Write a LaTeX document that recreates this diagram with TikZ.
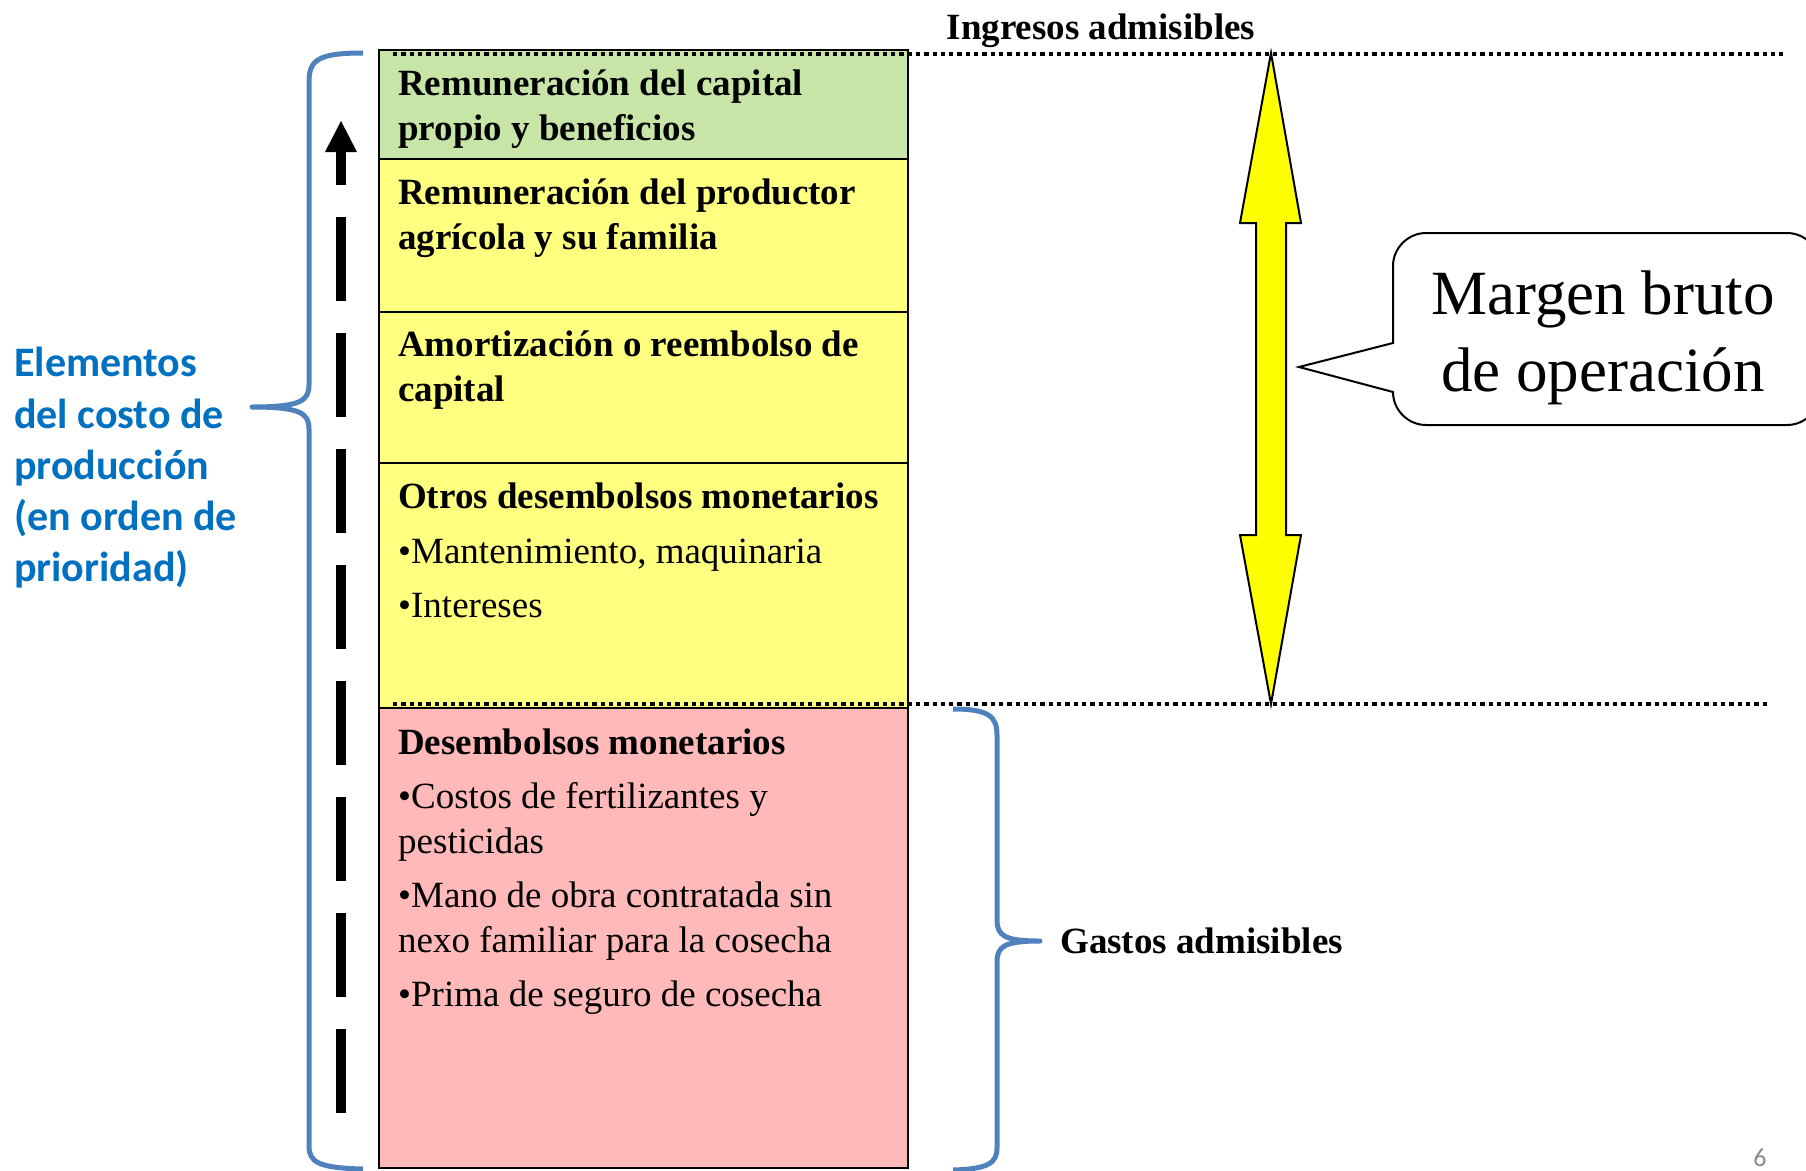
\documentclass[tikz,border=0pt]{standalone}
\usepackage{fontspec}
\setmainfont{Liberation Serif}
\newfontfamily\carlito{Carlito}
\definecolor{bgreen}{RGB}{198,229,167}
\definecolor{byellow}{RGB}{255,255,128}
\definecolor{bpink}{RGB}{255,185,185}
\definecolor{braceblue}{RGB}{79,129,189}
\definecolor{textblue}{RGB}{0,112,192}
\definecolor{pagegrey}{RGB}{137,137,137}
\definecolor{arrowyellow}{RGB}{255,255,0}
\begin{document}
\begin{tikzpicture}[x=1pt,y=-1pt,
  regtext/.style={anchor=base west,inner sep=0pt,font=\fontsize{37}{45}\selectfont},
  boldtext/.style={anchor=base west,inner sep=0pt,font=\fontsize{37}{45}\selectfont\bfseries},
  bluetext/.style={anchor=base west,inner sep=0pt,text=textblue,font=\carlito\fontsize{42}{51}\selectfont\bfseries},
  layer/.style={draw=black,line width=2pt},
  dotline/.style={line width=4pt,dash pattern=on 4.3pt off 4pt},
  bracestyle/.style={draw=braceblue,line width=5pt,line join=round},
  bigarrow/.style={fill=arrowyellow,draw=black,line width=2pt,line join=miter},
  callout/.style={fill=white,draw=black,line width=2pt,line join=miter}]
\useasboundingbox (0,0) rectangle (1806,1170);
\clip (0,0) rectangle (1806,1170);
\fill[white] (0,0) rectangle (1806,1170);

% layers of the column
\draw[layer,fill=bgreen] (379,50) rectangle (908,159);
\draw[layer,fill=byellow] (379,159) rectangle (908,312);
\draw[layer,fill=byellow] (379,312) rectangle (908,463);
\draw[layer,fill=byellow] (379,463) rectangle (908,708);
\draw[layer,fill=bpink] (379,708) rectangle (908,1168);

% texts in the column
\node[boldtext] (t1a) at (398,95) {Remuneración del capital};
\node[boldtext] (t1b) at (398,140) {propio y beneficios};
\node[boldtext] (t2a) at (398,204) {Remuneración del productor};
\node[boldtext] (t2b) at (398,249) {agrícola y su familia};
\node[boldtext] (t3a) at (398,356) {Amortización o reembolso de};
\node[boldtext] (t3b) at (398,401) {capital};
\node[boldtext] (t4a) at (398,508) {Otros desembolsos monetarios};
\node[regtext] (t4b) at (398,563) {•Mantenimiento, maquinaria};
\node[regtext] (t4c) at (398,617) {•Intereses};
\node[boldtext] (t5a) at (398,754) {Desembolsos monetarios};
\node[regtext] (t5b) at (398,808) {•Costos de fertilizantes y};
\node[regtext] (t5c) at (398,853) {pesticidas};
\node[regtext] (t5d) at (398,907) {•Mano de obra contratada sin};
\node[regtext] (t5e) at (398,952) {nexo familiar para la cosecha};
\node[regtext] (t5f) at (398,1006) {•Prima de seguro de cosecha};

% dotted lines
\coordinate (dtopL) at (393,54);
\coordinate (dtopR) at (1785,54);
\coordinate (dbotL) at (393,704);
\coordinate (dbotR) at (1770,704);
\draw[dotline] (dtopL) -- (dtopR);
\draw[dotline] (dbotL) -- (dbotR);

% top and bottom labels
\node[anchor=base,inner sep=0pt,font=\fontsize{37}{45}\selectfont\bfseries] (ingresos) at (1101,39) {Ingresos admisibles};
\node[boldtext] (gastos) at (1060,953) {Gastos admisibles};

% yellow double arrow
\draw[bigarrow] (1271,53) -- (1301,223) -- (1286,223) -- (1286,535) -- (1301,535)
  -- (1271,704) -- (1240,535) -- (1256,535) -- (1256,223) -- (1240,223) -- cycle;

% callout
\draw[callout] (1393,343) -- (1393,266) .. controls (1393,248) and (1408,233) .. (1426,233)
  -- (1787,233) .. controls (1805,233) and (1820,248) .. (1820,266)
  -- (1820,392) .. controls (1820,410) and (1805,425) .. (1787,425)
  -- (1426,425) .. controls (1408,425) and (1393,410) .. (1393,392)
  -- (1299,367) -- cycle;
\node[anchor=base,inner sep=0pt,font=\fontsize{63}{77}\selectfont] (margen1) at (1603,314) {Margen bruto};
\node[anchor=base,inner sep=0pt,font=\fontsize{63}{77}\selectfont] (margen2) at (1603,391) {de operación};

% left blue brace
\draw[bracestyle] (363,53) .. controls (318,53) and (309,60) .. (309,82)
  -- (309,385) .. controls (309,401) and (300,407) .. (252,407)
  .. controls (300,407) and (309,413) .. (309,429)
  -- (309,1146) .. controls (309,1162) and (318,1168) .. (363,1169);

% right blue brace
\draw[bracestyle] (953,709) .. controls (988,709) and (997,716) .. (997,735)
  -- (997,920) .. controls (997,936) and (1005,941) .. (1040,941)
  .. controls (1005,941) and (997,946) .. (997,962)
  -- (997,1148) .. controls (997,1163) and (988,1169) .. (953,1170);

% blue label
\node[bluetext] (b1) at (14,376) {Elementos};
\node[bluetext] (b2) at (14,428) {del costo de};
\node[bluetext] (b3) at (14,479) {producción};
\node[bluetext] (b4) at (14,530) {(en orden de};
\node[bluetext] (b5) at (14,581) {prioridad)};

% dashed priority arrow
\coordinate (pbot) at (341,1113);
\coordinate (ptop) at (341,152);
\draw[line width=10pt,dash pattern=on 84pt off 32pt] (pbot) -- (ptop);
\fill (325,152) -- (357,152) -- (341,121) -- cycle;

% page number
\node[anchor=base,inner sep=0pt,text=pagegrey,font=\carlito\fontsize{26}{30}\selectfont] (pnum) at (1760,1166) {6};
\end{tikzpicture}
\end{document}
